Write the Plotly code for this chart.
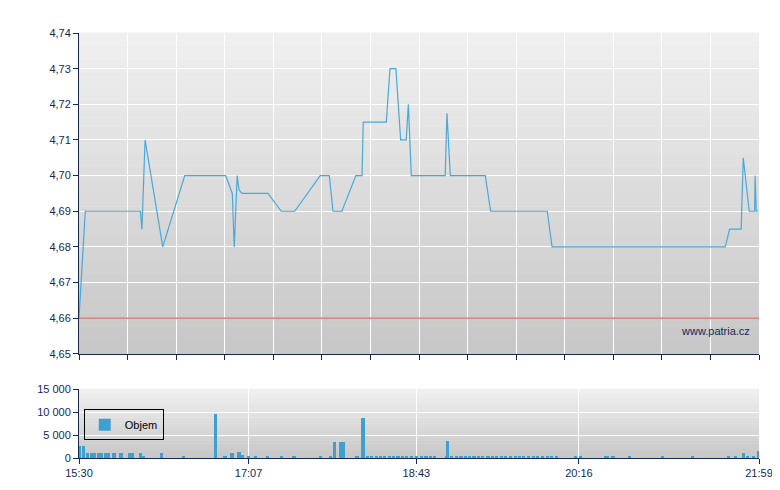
import plotly.graph_objects as go

# minutes since 15:30
price_t = [0, 3.6, 35.1, 36.0, 37.8, 47.9, 60.5, 83.9, 87.7, 88.8, 90.5, 91.5, 93.2, 108.1,
           115.7, 123.4, 138.0, 143.2, 145.3, 150.4, 158.4, 161.9, 162.6, 175.8, 177.9, 181.3,
           184.0, 187.2, 188.4, 190.1, 209.5, 210.5, 212.4, 232.4, 235.5, 267.9, 270.6, 369.7,
           372.2, 378.8, 380.0, 383.4, 386.5, 386.8, 387.4, 388.5]
price_v = [4.66, 4.69, 4.69, 4.685, 4.71, 4.68, 4.70, 4.70, 4.695, 4.68, 4.70, 4.696, 4.695, 4.695,
           4.69, 4.69, 4.70, 4.70, 4.69, 4.69, 4.70, 4.70, 4.715, 4.715, 4.73, 4.73,
           4.71, 4.71, 4.72, 4.70, 4.70, 4.7175, 4.70, 4.70, 4.69, 4.69, 4.68, 4.68,
           4.685, 4.685, 4.705, 4.69, 4.69, 4.70, 4.69, 4.69]
ref_price = 4.66

vol_t = [0.5, 2.5, 5, 7, 9, 11, 13, 15, 17, 20, 24, 29, 30.5, 35, 37, 47, 60, 78, 83.5, 87.5, 91.5,
         93.5, 97, 101, 108, 116, 123, 138, 144, 146, 149.5, 151, 159, 162.5, 165, 167.5, 170, 172.5,
         175, 177.5, 180, 182.5, 185, 187.5, 190, 193, 196, 198.5, 201, 203.5, 211, 210, 213, 216,
         218.5, 221, 223.5, 226, 228.5, 231, 234, 236.5, 239, 241.5, 244, 247, 249.5, 252, 254.5,
         257, 260, 262.5, 265, 268, 270.5, 273, 284, 287, 301, 302.5, 305.5, 315, 334, 351, 371.5,
         375.5, 380, 382.5, 386, 389]
vol_v = [2600, 2600, 1100, 1100, 1100, 1100, 1100, 1100, 1100, 1100, 1100, 1100, 1100, 1100, 500,
         1000, 500, 9500, 500, 1000, 1200, 600, 500, 500, 500, 500, 500, 500, 500, 3500,
         3500, 3500, 500, 8700, 500, 500, 500, 500, 500, 500, 500, 500, 500, 500,
         500, 500, 500, 500, 500, 500, 3700, 500, 500, 500, 500, 500, 500, 500, 500, 500,
         500, 500, 500, 500, 500, 500, 500, 500, 500, 500, 500, 500, 500, 500, 500, 500,
         500, 500, 500, 500, 500, 500, 500, 500, 500, 500, 1000, 500, 500, 1600]

tick_vals = [0, 97, 193, 286, 389]
tick_text = ["15:30", "17:07", "18:43", "20:16", "21:59"]

navy = "#14285a"
fig = go.Figure()
fig.add_trace(go.Scatter(x=[0, 389], y=[ref_price, ref_price], mode="lines",
                         line=dict(color="#e08080", width=1.5), showlegend=False,
                         xaxis="x", yaxis="y"))
fig.add_trace(go.Scatter(x=price_t, y=price_v, mode="lines", line=dict(color="#4aa8d8", width=1.2),
                         showlegend=False, xaxis="x", yaxis="y"))
fig.add_trace(go.Bar(x=vol_t, y=vol_v, width=1.8, marker=dict(color="#3fa0d0", line_width=0),
                     name="Objem", xaxis="x2", yaxis="y2"))

# gradient backgrounds
shapes = []
n = 24
for dom in ((0.245, 1.0), (0.0, 0.162)):
    for i in range(n):
        f = i / (n - 1)
        g = int(0xc8 + (0xf0 - 0xc8) * f)
        c = "rgb(%d,%d,%d)" % (g, g, g)
        h = (dom[1] - dom[0]) / n
        shapes.append(dict(type="rect", xref="paper", yref="paper", x0=0, x1=1,
                           y0=dom[0] + i * h, y1=dom[0] + (i + 1) * h + 0.001,
                           fillcolor=c, line_width=0, layer="below"))

axis_common = dict(showline=True, linecolor=navy, linewidth=1, ticks="outside", tickcolor=navy,
                   gridcolor="white", gridwidth=1.2, zeroline=False, automargin=False,
                   tickfont=dict(family="Liberation Sans", size=11, color=navy))

fig.update_layout(
    width=780, height=490, margin=dict(l=71, r=29, t=25, b=40),
    paper_bgcolor="white", plot_bgcolor="rgba(0,0,0,0)", separators=", ",
    shapes=shapes, bargap=0,
    xaxis=dict(axis_common, domain=[0, 1], range=[0, 389], tick0=0, dtick=389 / 14,
               showticklabels=False, anchor="y"),
    yaxis=dict(axis_common, domain=[0.245, 1], range=[4.65, 4.74], dtick=0.01, tickformat=".2f"),
    xaxis2=dict(axis_common, domain=[0, 1], range=[0, 389], tickvals=tick_vals, ticktext=tick_text,
                anchor="y2"),
    yaxis2=dict(axis_common, domain=[0, 0.162], range=[0, 15000], tickvals=[0, 5000, 10000, 15000],
                tickformat=",d"),
    legend=dict(x=0.007, y=0.115, xanchor="left", yanchor="top", bgcolor="rgba(0,0,0,0)",
                bordercolor="black", borderwidth=1, itemwidth=30,
                font=dict(family="Liberation Sans", size=11, color="black")),
    annotations=[dict(text="www.patria.cz", xref="paper", yref="paper", x=0.99, y=0.28,
                      showarrow=False, xanchor="right",
                      font=dict(family="Liberation Sans", size=11, color=navy))],
)
fig.write_html("out.html")
